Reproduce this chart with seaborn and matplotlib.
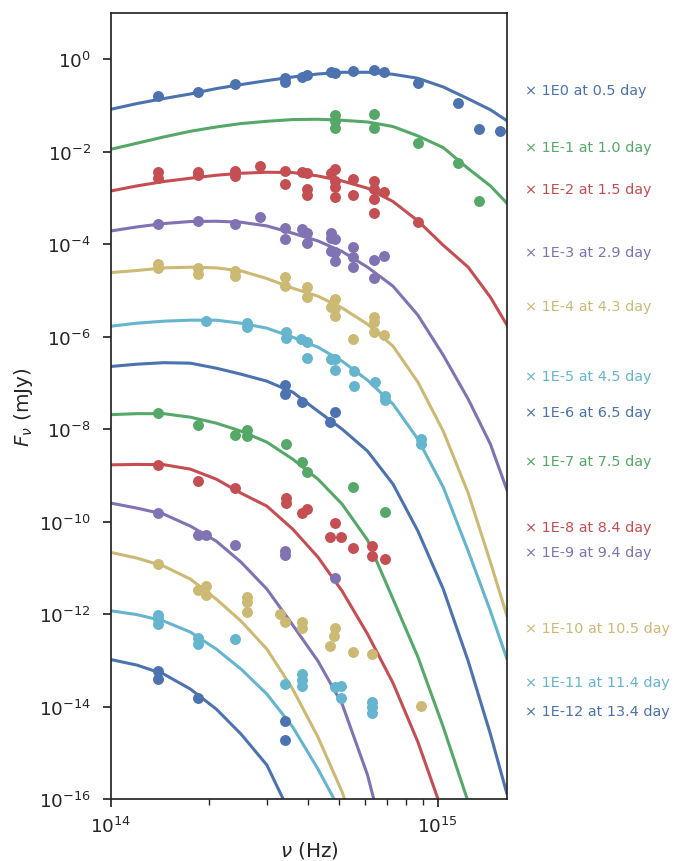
import numpy as np
import matplotlib
matplotlib.use("Agg")
import matplotlib.pyplot as plt
import matplotlib.ticker as mticker
from matplotlib.transforms import blended_transform_factory
import seaborn as sns

# ------------------------------------------------------------
# epochs, scale factors and label heights (log10 of scaled flux)
# ------------------------------------------------------------
days = [0.5, 1.0, 1.5, 2.9, 4.3, 4.5, 6.5, 7.5, 8.4, 9.4, 10.5, 11.4, 13.4]
scale_exp = [0, -1, -2, -3, -4, -5, -6, -7, -8, -9, -10, -11, -12]
label_logy = [-0.670, -1.903, -2.811, -4.173, -5.341, -6.854, -7.632,
              -8.692, -10.119, -10.659, -12.303, -13.470, -14.097]

# ------------------------------------------------------------
# model curves (log10 of scaled F_nu) on a common frequency grid
# ------------------------------------------------------------
model_nu = [1.0e14, 1.2e14, 1.45e14, 1.75e14, 2.1e14, 2.5e14, 3.0e14, 3.6e14,
            4.3e14, 5.1e14, 6.1e14, 7.3e14, 8.7e14, 1.04e15, 1.24e15,
            1.45e15, 1.63e15]

model_0 = [-1.081, -0.958, -0.850, -0.750, -0.634, -0.547, -0.461, -0.383, -0.318,
           -0.281, -0.281, -0.324, -0.411, -0.599, -0.855, -1.092, -1.330]
model_1 = [-1.946, -1.816, -1.680, -1.557, -1.464, -1.390, -1.341, -1.304, -1.297,
           -1.319, -1.356, -1.455, -1.658, -1.909, -2.363, -2.739, -3.114]
model_2 = [-2.848, -2.739, -2.644, -2.573, -2.508, -2.465, -2.443, -2.450, -2.523,
           -2.632, -2.789, -3.077, -3.496, -4.022, -4.497, -5.146, -5.751]
model_3 = [-3.713, -3.626, -3.553, -3.509, -3.503, -3.524, -3.604, -3.762, -3.929,
           -4.158, -4.497, -4.908, -5.535, -6.400, -7.351, -8.324, -9.319]
model_4 = [-4.612, -4.569, -4.512, -4.497, -4.512, -4.577, -4.742, -4.951, -5.124,
           -5.379, -5.730, -6.205, -6.984, -8.043, -9.384, -10.876, -12.043]
model_5 = [-5.773, -5.708, -5.665, -5.643, -5.643, -5.708, -5.816, -6.011, -6.227,
           -6.530, -6.941, -7.459, -8.216, -9.254, -10.638, -11.935, -12.973]
model_6 = [-6.644, -6.595, -6.562, -6.573, -6.681, -6.811, -6.962, -7.200, -7.611,
           -8.000, -8.476, -9.189, -10.205, -11.459, -13.016, -14.595, -15.892]
model_7 = [-7.686, -7.665, -7.665, -7.741, -7.870, -8.043, -8.281, -8.649, -9.081,
           -9.622, -10.400, -11.676, -12.930, -14.443, -16.065]
model_8 = [-8.772, -8.763, -8.768, -8.865, -9.081, -9.384, -9.665, -10.162, -10.768,
           -11.503, -12.432, -13.492, -14.768, -16.324]
model_9 = [-9.600, -9.708, -9.838, -10.097, -10.422, -10.876, -11.459, -12.238,
           -13.016, -13.946, -15.481, -17.622]
model_10 = [-10.666, -10.789, -10.962, -11.243, -11.676, -12.151, -12.757, -13.622,
            -14.660, -15.849, -17.514]
model_11 = [-11.929, -12.011, -12.151, -12.389, -12.757, -13.189, -13.730, -14.443,
            -15.351, -16.324]
model_12 = [-12.984, -13.103, -13.297, -13.622, -14.054, -14.595, -15.265, -16.432]

# ------------------------------------------------------------
# photometry (frequency in Hz, log10 of scaled F_nu in mJy)
# ------------------------------------------------------------
nu_0 = [1.39e14, 1.84e14, 2.40e14, 3.42e14, 3.42e14, 3.85e14, 3.97e14, 4.71e14,
        4.84e14, 5.52e14, 6.40e14, 6.87e14, 8.69e14, 1.15e15, 1.34e15, 1.55e15]
logf_0 = [-0.794, -0.707, -0.541, -0.396, -0.491, -0.374, -0.335, -0.275,
          -0.303, -0.244, -0.223, -0.281, -0.512, -0.945, -1.498, -1.550]

nu_1 = [4.84e14, 4.84e14, 4.84e14, 6.40e14, 6.40e14, 8.69e14, 1.15e15, 1.34e15]
logf_1 = [-1.211, -1.341, -1.492, -1.189, -1.481, -1.805, -2.242, -3.070]

nu_2 = [1.39e14, 1.39e14, 1.84e14, 1.84e14, 2.40e14, 2.40e14, 2.85e14, 3.42e14,
        3.42e14, 3.85e14, 3.99e14, 3.99e14, 3.99e14, 4.71e14, 4.84e14, 4.84e14,
        4.84e14, 4.84e14, 5.52e14, 5.52e14, 6.40e14, 6.40e14, 6.40e14, 6.40e14,
        6.87e14, 8.69e14]
logf_2 = [-2.443, -2.573, -2.432, -2.508, -2.415, -2.519, -2.314, -2.415,
          -2.703, -2.437, -2.465, -2.811, -2.941, -2.450, -2.378, -2.631,
          -2.768, -2.984, -2.595, -2.941, -2.631, -2.811, -3.027, -3.315,
          -2.869, -3.524]

nu_3 = [1.39e14, 1.84e14, 2.40e14, 2.85e14, 3.42e14, 3.42e14, 3.85e14, 3.99e14,
        3.99e14, 4.71e14, 4.71e14, 4.71e14, 4.84e14, 4.84e14, 4.84e14, 5.52e14,
        5.52e14, 5.52e14, 6.40e14, 6.40e14, 6.87e14]
logf_3 = [-3.568, -3.503, -3.568, -3.401, -3.639, -3.877, -3.676, -3.747,
          -3.968, -3.747, -3.855, -4.145, -3.892, -4.179, -4.361, -4.054,
          -4.270, -4.486, -4.335, -4.735, -4.249]

nu_4 = [1.39e14, 1.39e14, 1.84e14, 1.84e14, 2.40e14, 2.40e14, 3.42e14, 3.42e14,
        3.97e14, 3.97e14, 4.71e14, 4.84e14, 4.84e14, 4.84e14, 5.52e14, 6.40e14,
        6.40e14, 6.40e14, 6.87e14]
logf_4 = [-4.432, -4.504, -4.504, -4.649, -4.577, -4.698, -4.714, -4.908,
          -4.936, -5.135, -5.351, -5.189, -5.384, -5.557, -6.054, -5.568,
          -5.680, -5.896, -5.953]

nu_5 = [1.95e14, 2.60e14, 2.60e14, 3.43e14, 3.43e14, 3.82e14, 3.99e14, 3.99e14,
        4.71e14, 4.86e14, 4.86e14, 5.54e14, 5.54e14, 6.41e14, 6.89e14, 6.89e14,
        8.91e14, 8.91e14]
logf_5 = [-5.658, -5.708, -5.780, -5.892, -6.032, -6.054, -6.125, -6.471,
          -6.486, -6.486, -6.724, -6.739, -7.064, -6.984, -7.276, -7.373,
          -8.216, -8.324]

nu_6 = [3.42e14, 3.42e14, 3.83e14, 4.68e14, 4.84e14]
logf_6 = [-7.038, -7.243, -7.423, -7.855, -7.626]

nu_7 = [1.39e14, 1.84e14, 2.40e14, 2.60e14, 2.60e14, 3.43e14, 3.83e14, 3.99e14,
        5.52e14, 6.89e14]
logf_7 = [-7.654, -7.909, -8.123, -8.022, -8.158, -8.331, -8.703, -8.936,
          -9.261, -9.801]

nu_8 = [1.39e14, 1.84e14, 2.40e14, 3.43e14, 3.43e14, 3.83e14, 3.99e14, 4.84e14,
        4.68e14, 5.06e14, 5.52e14, 6.30e14, 6.30e14, 6.89e14]
logf_8 = [-8.768, -9.118, -9.276, -9.492, -9.600, -9.816, -9.730, -10.026,
          -10.324, -10.324, -10.566, -10.536, -10.746, -10.811]

nu_9 = [1.39e14, 1.84e14, 1.95e14, 2.40e14, 3.42e14, 3.42e14, 4.84e14]
logf_9 = [-9.810, -10.288, -10.288, -10.502, -10.638, -10.724, -11.222]

nu_10 = [1.39e14, 1.84e14, 1.95e14, 1.95e14, 2.60e14, 2.60e14, 2.60e14, 3.29e14,
         3.42e14, 3.85e14, 3.85e14, 4.84e14, 4.80e14, 4.68e14, 5.52e14, 6.30e14,
         8.89e14]
logf_10 = [-10.919, -11.485, -11.388, -11.578, -11.639, -11.741, -11.950, -12.000,
           -12.180, -12.180, -12.303, -12.309, -12.482, -12.685, -12.815, -12.865,
           -13.996]

nu_11 = [1.39e14, 1.39e14, 1.39e14, 1.84e14, 1.84e14, 2.40e14, 3.42e14, 3.84e14,
         3.84e14, 3.84e14, 4.84e14, 5.06e14, 5.06e14, 6.30e14, 6.30e14, 6.30e14]
logf_11 = [-12.011, -12.108, -12.216, -12.508, -12.649, -12.541, -13.503, -13.297,
           -13.416, -13.557, -13.585, -13.557, -13.823, -13.896, -14.011, -14.134]

nu_12 = [1.39e14, 1.39e14, 1.84e14, 3.42e14, 3.42e14]
logf_12 = [-13.226, -13.405, -13.823, -14.307, -14.718]

models = [model_0, model_1, model_2, model_3, model_4, model_5, model_6,
          model_7, model_8, model_9, model_10, model_11, model_12]
obs_nu = [nu_0, nu_1, nu_2, nu_3, nu_4, nu_5, nu_6, nu_7, nu_8, nu_9, nu_10,
          nu_11, nu_12]
obs_logf = [logf_0, logf_1, logf_2, logf_3, logf_4, logf_5, logf_6, logf_7,
            logf_8, logf_9, logf_10, logf_11, logf_12]

# ------------------------------------------------------------
# plot
# ------------------------------------------------------------
sns.set_theme(style="ticks", context="notebook", font_scale=1.2)
palette = sns.color_palette("deep6")

fig = plt.figure(figsize=(6.76, 8.62), dpi=100)
ax = fig.add_axes([0.1642, 0.0719, 0.5858, 0.9118])
ax.set_xscale("log")
ax.set_yscale("log")

for i in range(len(days)):
    c = palette[i % 6]
    mf = np.array(models[i])
    sns.lineplot(x=model_nu[:len(mf)], y=10 ** mf, ax=ax, color=c,
                 lw=2.2, sort=False, estimator=None)
    sns.scatterplot(x=obs_nu[i], y=10 ** np.array(obs_logf[i]), ax=ax,
                    color=c, s=62, linewidth=0, alpha=1, zorder=3)

ax.set_xlim(1e14, 1.63e15)
ax.set_ylim(1e-16, 1e1)

ax.yaxis.set_major_locator(mticker.FixedLocator([10.0 ** k for k in range(0, -17, -2)]))
ax.yaxis.set_major_formatter(mticker.LogFormatterSciNotation())
ax.yaxis.set_minor_locator(mticker.NullLocator())
ax.xaxis.set_major_locator(mticker.FixedLocator([1e14, 1e15]))
ax.xaxis.set_minor_locator(mticker.LogLocator(base=10, subs=np.arange(2, 10), numticks=20))
ax.xaxis.set_minor_formatter(mticker.NullFormatter())
ax.tick_params(axis="y", which="major", pad=8.5)
ax.tick_params(axis="x", which="major", pad=6.5)

ax.set_xlabel(r"$\nu$ (Hz)", labelpad=2)
ax.set_ylabel(r"$F_\nu$ (mJy)", labelpad=3)

trans = blended_transform_factory(ax.transAxes, ax.transData)
for i in range(len(days)):
    ax.text(1.045, 10 ** label_logy[i],
            f"\u00d7 1E{scale_exp[i]} at {days[i]:.1f} day",
            transform=trans, color=palette[i % 6], fontsize=10.4,
            va="center", ha="left", clip_on=False)

fig.savefig("out.png", dpi=100)
